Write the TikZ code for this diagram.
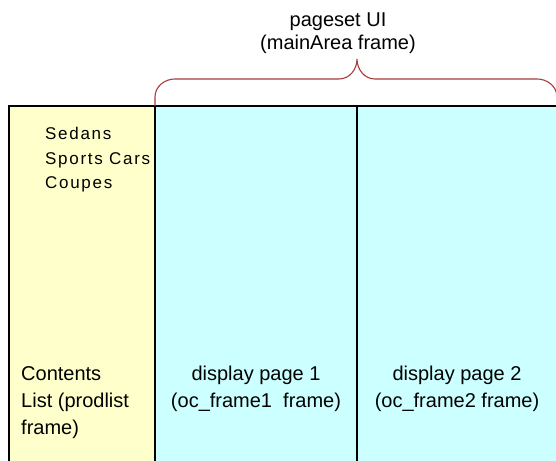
\documentclass[tikz,border=0pt]{standalone}
\usepackage{fontspec}
\setmainfont{Liberation Sans}
\newfontfamily\menufont[LetterSpace=10]{Liberation Sans}
\usetikzlibrary{positioning}
\definecolor{listbg}{RGB}{255,255,204}
\definecolor{pagebg}{RGB}{204,255,255}
\definecolor{braceline}{RGB}{168,58,58}
\tikzset{
  frame/.style={draw=black,line width=1.3pt,outer sep=0pt,inner sep=0pt,
    anchor=north west,minimum height=370pt},
  label/.style={inner sep=0pt,font=\fontsize{20}{27}\selectfont},
  menu/.style={inner sep=0pt,align=left,anchor=north west,
    font=\menufont\fontsize{17}{24.5}\selectfont},
  brace/.style={draw=braceline,line width=1.1pt}
}

\begin{document}
\begin{tikzpicture}[x=1pt,y=1pt]
\useasboundingbox (0,0) rectangle (556,460);
\node[frame,fill=listbg,minimum width=146pt] (prodlist) at (9,354) {};
\node[frame,fill=pagebg,minimum width=202pt] (display1) at (prodlist.north east) {};
\node[frame,fill=pagebg,minimum width=200pt] (display2) at (display1.north east) {};
\node[menu,below right=21pt and 36pt of prodlist.north west] (items) {Sedans\\Sports Cars\\Coupes};
\node[label,align=left,anchor=north west,below right=260pt and 12pt of prodlist.north west] (contents)
  {Contents\\List (prodlist\\frame)};
\node[label,align=center,anchor=north,below=260pt of display1.north] (page1)
  {display page 1\\(oc\_frame1\ \ frame)};
\node[label,align=center,anchor=north,below=260pt of display2.north] (page2)
  {display page 2\\(oc\_frame2 frame)};
\coordinate[above=47pt of display2.north west] (tip);
\draw[brace] (display1.north west) -- ++(0,9) to[out=90,in=180] ++(20,18) -- ++(164,0)
  to[out=0,in=-90] (tip) to[out=-90,in=180] ++(18,-20) -- ++(162,0)
  to[out=0,in=90] ++(20,-18) -- (display2.north east);
\node[label,align=center,font=\fontsize{20}{23}\selectfont,anchor=south,above=5pt of tip,xshift=-19pt] (pageset)
  {pageset UI\\(mainArea frame)};
\end{tikzpicture}
\end{document}
